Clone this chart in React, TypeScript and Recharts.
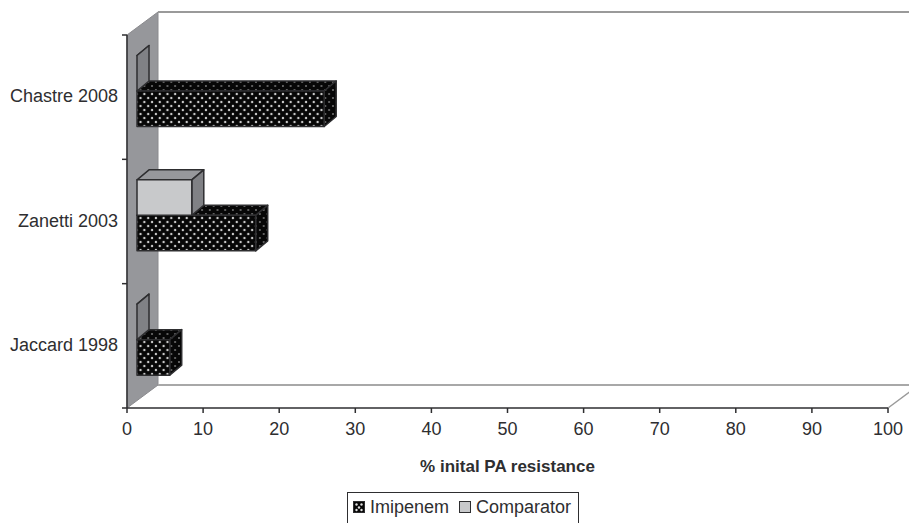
import React from "react";
import { BarChart, Bar, XAxis, YAxis, Legend, ReferenceArea } from "recharts";

const categories = ["Chastre 2008", "Zanetti 2003", "Jaccard 1998"];
const imipenem = [24.6, 15.6, 4.3];
const comparator = [0, 7.2, 0];
const xTicks = [0, 10, 20, 30, 40, 50, 60, 70, 80, 90, 100];

const data = categories.map((name, i) => ({ name, imipenem: imipenem[i], comparator: comparator[i] }));

const FONT = '"Liberation Sans", Arial, sans-serif';
const INK = "#2e2e30";
const WALL_DX = 31;
const WALL_DY = 23;
const BAR_DX = 12;
const BAR_DY = 10;
const BAR_SHIFT_X = 10;
const BAR_SHIFT_Y = -6;

const Walls = (props: any) => {
  const { x, y, width, height } = props;
  const b = y + height;
  const r = x + width;
  return (
    <g>
      <defs>
        <pattern id="dotsFront" width="7.7" height="8" patternUnits="userSpaceOnUse">
          <rect width="7.7" height="8" fill="#070707" />
          <circle cx="1.9" cy="2" r="1.2" fill="#c8c8c8" />
          <circle cx="5.75" cy="6" r="1.2" fill="#c8c8c8" />
        </pattern>
        <pattern id="dotsDim" width="7.7" height="8" patternUnits="userSpaceOnUse">
          <rect width="7.7" height="8" fill="#070707" />
          <circle cx="1.9" cy="2" r="1" fill="#777" />
          <circle cx="5.75" cy="6" r="1" fill="#777" />
        </pattern>
      </defs>
      <polygon
        points={`${x},${y} ${x + WALL_DX},${y - WALL_DY} ${x + WALL_DX},${b - WALL_DY} ${x},${b}`}
        fill="#96979b"
        stroke="#8a8a8e"
        strokeWidth={1}
      />
      <line x1={x + WALL_DX} y1={y - WALL_DY} x2={r + WALL_DX} y2={y - WALL_DY} stroke="#9a9a9a" strokeWidth={2} />
      <line x1={x + WALL_DX} y1={b - WALL_DY} x2={r + WALL_DX} y2={b - WALL_DY} stroke="#a8a8a8" strokeWidth={2} />
      <line x1={r} y1={b} x2={r + WALL_DX} y2={b - WALL_DY} stroke="#9a9a9a" strokeWidth={1.5} />
    </g>
  );
};

const box = (props: any, front: string, top: string, side: string) => {
  const { x, y, width, height } = props;
  const x0 = x + BAR_SHIFT_X;
  const y0 = y + BAR_SHIFT_Y;
  const x1 = x0 + width;
  const y1 = y0 + height;
  const common = { stroke: INK, strokeWidth: 1.5, strokeLinejoin: "round" as const };
  return (
    <g>
      <polygon points={`${x0},${y0} ${x0 + BAR_DX},${y0 - BAR_DY} ${x1 + BAR_DX},${y0 - BAR_DY} ${x1},${y0}`} fill={top} {...common} />
      <polygon points={`${x1},${y0} ${x1 + BAR_DX},${y0 - BAR_DY} ${x1 + BAR_DX},${y1 - BAR_DY} ${x1},${y1}`} fill={side} {...common} />
      <rect x={x0} y={y0} width={width} height={height} fill={front} {...common} />
    </g>
  );
};

const ImipenemBox = (props: any) => box(props, "url(#dotsFront)", "url(#dotsDim)", "url(#dotsDim)");
const ComparatorBox = (props: any) => box(props, "#c8c9cb", "#97989c", "#808185");

const CategoryTick = (props: any) => {
  const { x, y, payload, index, visibleTicksCount } = props;
  const half = 62.17;
  return (
    <g>
      <line x1={x - 5} x2={x} y1={y - half} y2={y - half} stroke={INK} strokeWidth={1.5} />
      {index === visibleTicksCount - 1 && (
        <line x1={x - 5} x2={x} y1={y + half} y2={y + half} stroke={INK} strokeWidth={1.5} />
      )}
      <text x={x - 9} y={y + 5} textAnchor="end" fontFamily={FONT} fontSize={18} fill={INK}>
        {payload.value}
      </text>
    </g>
  );
};

const Swatch = ({ dotted }: { dotted: boolean }) => (
  <svg width={12} height={12} style={{ display: "block", overflow: "visible" }}>
    <rect x={0.5} y={0.5} width={11} height={11} fill={dotted ? "#070707" : "#c8c9cb"} stroke={INK} />
    {dotted && (
      <g fill="#e0e0e0">
        <circle cx={3.5} cy={3.5} r={1.2} />
        <circle cx={8.5} cy={3.5} r={1.2} />
        <circle cx={6} cy={6.5} r={1.2} />
        <circle cx={3.5} cy={9} r={1.2} />
        <circle cx={8.5} cy={9} r={1.2} />
      </g>
    )}
  </svg>
);

const LegendBox = (props: any) => (
  <div
    style={{
      boxSizing: "border-box",
      width: 232,
      height: 40,
      border: `1.5px solid ${INK}`,
      fontFamily: FONT,
      fontSize: 18,
      color: INK,
      display: "flex",
      alignItems: "flex-start",
      paddingLeft: 5,
      paddingTop: 3,
    }}
  >
    {(props.payload || []).map((p: any, i: number) => (
      <div key={p.value} style={{ display: "flex", alignItems: "center", marginLeft: i ? 10 : 0, lineHeight: "22px" }}>
        <Swatch dotted={p.value === "Imipenem"} />
        <span style={{ marginLeft: 5 }}>{p.value}</span>
      </div>
    ))}
  </div>
);

export default function App() {
  return (
    <div style={{ position: "absolute", left: 0, top: 0, width: 909, height: 523, overflow: "hidden", background: "#fff" }}>
      <BarChart
        width={909}
        height={523}
        data={data}
        layout="vertical"
        margin={{ top: 35, right: 21, bottom: 55, left: 7 }}
        barSize={35.5}
        barGap={-71}
      >
        <ReferenceArea x1={0} x2={100} shape={Walls} ifOverflow="visible" />
        <XAxis
          type="number"
          domain={[0, 100]}
          ticks={xTicks}
          interval={0}
          height={60}
          stroke={INK}
          tick={{ fill: INK, fontFamily: FONT, fontSize: 18 }}
          tickSize={5}
          tickMargin={9}
          axisLine={{ stroke: INK, strokeWidth: 1.5 }}
          tickLine={{ stroke: INK, strokeWidth: 1.5 }}
          label={{
            value: "% inital PA resistance",
            position: "insideBottom",
            offset: -4,
            style: { fontFamily: FONT, fontSize: 17, fontWeight: 700, fill: INK },
          }}
        />
        <YAxis
          type="category"
          dataKey="name"
          width={120}
          tickLine={false}
          tickSize={0}
          tickMargin={0}
          interval={0}
          axisLine={{ stroke: INK, strokeWidth: 1.5 }}
          tick={CategoryTick}
        />
        <Legend
          layout="horizontal"
          verticalAlign="middle"
          align="center"
          itemSorter={null}
          wrapperStyle={{ left: 347, top: 492, width: 232, height: 40, margin: 0 }}
          content={LegendBox}
        />
        <Bar dataKey="imipenem" name="Imipenem" shape={ImipenemBox} isAnimationActive={false} />
        <Bar dataKey="comparator" name="Comparator" shape={ComparatorBox} isAnimationActive={false} />
      </BarChart>
    </div>
  );
}
